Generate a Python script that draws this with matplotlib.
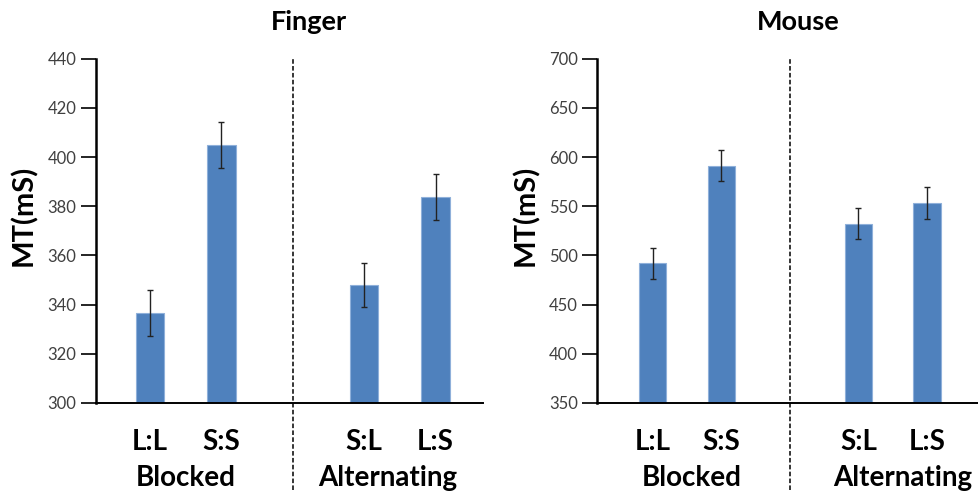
import matplotlib.pyplot as plt

plt.rcParams['font.family'] = ['Lato', 'DejaVu Sans']

conditions = ["L:L", "S:S", "S:L", "L:S"]
positions = [0, 1, 3, 4]
groups = ["Blocked", "Alternating"]

finger_mt = [336.5, 404.9, 348.0, 383.7]
finger_err = [9.4, 9.3, 9.1, 9.4]
mouse_mt = [492.1, 591.3, 532.2, 553.3]
mouse_err = [15.6, 16.0, 16.0, 16.2]

bar_color = "#4F81BD"


def panel(ax, values, errs, ylim, yticks, xlim, title_x, title, group_x):
    ax.bar(positions, [v - ylim[0] for v in values], bottom=ylim[0], width=0.4,
           color=bar_color, edgecolor="#8FB0DA", linewidth=0.8, zorder=2)
    ax.errorbar(positions, values, yerr=errs, fmt="none", ecolor="#222222",
                elinewidth=1.0, capsize=2.5, capthick=1.0, zorder=3)
    ax.set_ylim(ylim)
    ax.set_xlim(xlim)
    ax.set_yticks(yticks)
    ax.tick_params(axis="y", direction="out", length=11, width=1.2,
                   labelsize=12, labelcolor="#404040", pad=3)
    ax.set_xticks(positions)
    ax.set_xticklabels(conditions, fontsize=20, fontweight="bold")
    ax.tick_params(axis="x", length=0, pad=19)
    for s in ["top", "right"]:
        ax.spines[s].set_visible(False)
    ax.spines["left"].set_linewidth(1.8)
    ax.spines["bottom"].set_linewidth(1.4)
    ax.set_ylabel("MT(mS)", fontsize=21, fontweight="bold")
    ax.yaxis.set_label_coords(-0.152, 0.545)
    # dashed separator between the two groups, running down through the labels
    ax.axvline(2, ymin=-0.253, ymax=1.0, color="black", linestyle=(0, (3, 1.5)),
               linewidth=1.1, clip_on=False)
    for gx, g in zip(group_x, groups):
        ax.text(gx, -0.218, g, transform=ax.get_xaxis_transform(), ha="center",
                va="center", fontsize=20, fontweight="bold")
    fig.text(title_x, 0.955, title, ha="center", va="center", fontsize=19.5,
             fontweight="bold")


fig = plt.figure(figsize=(9.79, 4.98), dpi=100)
ax1 = fig.add_axes([0.098, 0.191, 0.395, 0.691])
ax2 = fig.add_axes([0.610, 0.191, 0.390, 0.691])

panel(ax1, finger_mt, finger_err, (300, 440), range(300, 441, 20), (-0.755, 4.66),
      309 / 979, "Finger", [0.5, 3.33])
panel(ax2, mouse_mt, mouse_err, (350, 700), range(350, 701, 50), (-0.81, 4.76),
      798 / 979, "Mouse", [0.57, 3.65])

fig.savefig("out.png", dpi=100)
